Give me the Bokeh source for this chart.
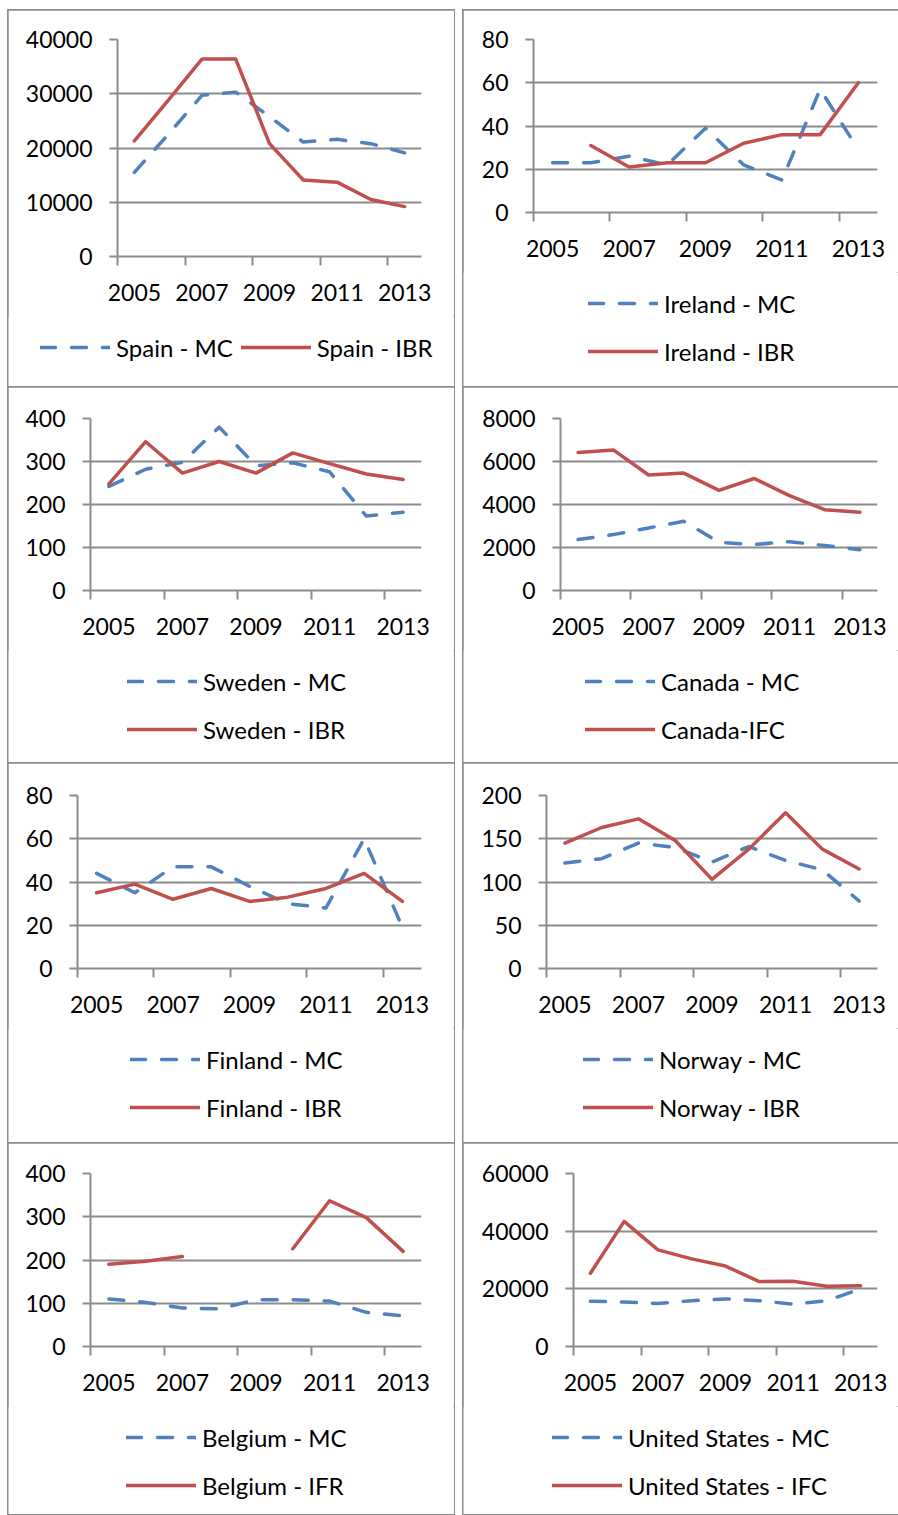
from bokeh.plotting import figure
from bokeh.models import Range1d, FixedTicker, Legend, LegendItem, Spacer
from bokeh.layouts import column, row
from bokeh.embed import file_html
from bokeh.resources import INLINE

nan = float("nan")

years = [2005, 2006, 2007, 2008, 2009, 2010, 2011, 2012, 2013]
label_years = [2005, 2007, 2009, 2011, 2013]

spain_mc = [15500, 22500, 29700, 30300, 25800, 21100, 21600, 20800, 19100]
spain_ibr = [21300, 28800, 36400, 36400, 20800, 14100, 13700, 10500, 9200]
ireland_mc = [23, 23, 26, 22, 39, 22, 15, 57, 29]
ireland_ibr = [nan, 31, 21, 23, 23, 32, 36, 36, 60]
sweden_mc = [242, 282, 298, 380, 290, 297, 276, 173, 182]
sweden_ibr = [248, 346, 273, 300, 273, 320, 295, 271, 258]
canada_mc = [2370, 2600, 2910, 3220, 2240, 2140, 2270, 2090, 1900]
canada_ifc = [6420, 6540, 5370, 5460, 4660, 5210, 4410, 3760, 3640]
finland_mc = [44, 35, 47, 47, 38, 30, 28, 60, 19]
finland_ibr = [35, 39, 32, 37, 31, 33, 37, 44, 31]
norway_mc = [122, 127, 145, 140, 123, 141, 125, 114, 78]
norway_ibr = [145, 163, 173, 148, 103, 138, 180, 138, 115]
belgium_mc = [110, 102, 89, 87, 108, 108, 105, 79, 71]
belgium_ifr = [190, 197, 208, nan, nan, 226, 337, 298, 220]
us_mc = [15700, 15400, 14900, 15900, 16500, 15900, 14700, 15900, 20000]
us_ifc = [25400, 43400, 33500, 30400, 27900, 22500, 22600, 20900, 21100]

spain_ticks = [0, 10000, 20000, 30000, 40000]
ireland_ticks = [0, 20, 40, 60, 80]
sweden_ticks = [0, 100, 200, 300, 400]
canada_ticks = [0, 2000, 4000, 6000, 8000]
finland_ticks = [0, 20, 40, 60, 80]
norway_ticks = [0, 50, 100, 150, 200]
belgium_ticks = [0, 100, 200, 300, 400]
us_ticks = [0, 20000, 40000, 60000]

BLUE = "#4F81BD"
RED = "#C0504D"
GRAY = "#8c8c8c"
FONT = "Lato"
AXIS_AREA = 60      # space below the frame kept for the x axis
LEG_TOP = 16        # legend top offset inside the legend strip

panels = [
    dict(mc=spain_mc, other=spain_ibr, labels=("Spain - MC", "Spain - IBR"), ticks=spain_ticks,
         w=446, h=377, L=109, R=33, T=29, F=217, lx=32, orient="horizontal"),
    dict(mc=ireland_mc, other=ireland_ibr, labels=("Ireland - MC", "Ireland - IBR"), ticks=ireland_ticks,
         w=435, h=377, L=70, R=21, T=29, F=173, lx=125, orient="vertical"),
    dict(mc=sweden_mc, other=sweden_ibr, labels=("Sweden - MC", "Sweden - IBR"), ticks=sweden_ticks,
         w=446, h=376, L=82, R=33, T=31, F=172, lx=119, orient="vertical"),
    dict(mc=canada_mc, other=canada_ifc, labels=("Canada - MC", "Canada-IFC"), ticks=canada_ticks,
         w=435, h=376, L=97, R=21, T=31, F=172, lx=122, orient="vertical"),
    dict(mc=finland_mc, other=finland_ibr, labels=("Finland - MC", "Finland - IBR"), ticks=finland_ticks,
         w=446, h=380, L=69, R=33, T=32, F=173, lx=122, orient="vertical"),
    dict(mc=norway_mc, other=norway_ibr, labels=("Norway - MC", "Norway - IBR"), ticks=norway_ticks,
         w=435, h=380, L=83, R=21, T=32, F=173, lx=120, orient="vertical"),
    dict(mc=belgium_mc, other=belgium_ifr, labels=("Belgium - MC", "Belgium - IFR"), ticks=belgium_ticks,
         w=446, h=371, L=82, R=33, T=30, F=173, lx=118, orient="vertical"),
    dict(mc=us_mc, other=us_ifc, labels=("United States - MC", "United States - IFC"), ticks=us_ticks,
         w=435, h=371, L=110, R=21, T=30, F=173, lx=89, orient="vertical"),
]


def style_legend(legend, orient):
    legend.label_text_font = FONT
    legend.label_text_font_size = "24px"
    legend.label_text_color = "black"
    legend.glyph_width = 70
    legend.glyph_height = 30
    legend.label_height = 30
    legend.label_standoff = 6
    legend.spacing = 18 if orient == "vertical" else 8
    legend.padding = 0
    legend.margin = 0
    legend.border_line_color = None
    legend.background_fill_alpha = 0


MC_STYLE = dict(line_color=BLUE, line_width=3.5, line_dash="15 16", line_cap="round", line_join="round")
OTHER_STYLE = dict(line_color=RED, line_width=3.5, line_cap="round", line_join="round")


def make_panel(cfg):
    chart_h = cfg["T"] + cfg["F"] + AXIS_AREA
    p = figure(width=cfg["w"], height=chart_h, output_backend="svg", toolbar_location=None,
               x_range=Range1d(years[0] - 0.5, years[-1] + 0.5),
               y_range=Range1d(cfg["ticks"][0], cfg["ticks"][-1]),
               min_border_left=cfg["L"], min_border_right=cfg["R"],
               min_border_top=cfg["T"], min_border_bottom=AXIS_AREA,
               frame_align=False)
    p.outline_line_color = None
    p.background_fill_color = "white"
    p.border_fill_color = "white"
    p.xgrid.visible = False
    p.ygrid.grid_line_color = GRAY
    p.ygrid.grid_line_width = 2

    xa = p.xaxis[0]
    xa.ticker = FixedTicker(ticks=label_years, minor_ticks=[y - 0.5 for y in label_years])
    xa.axis_line_color = GRAY
    xa.axis_line_width = 2
    xa.major_tick_out = 0
    xa.major_tick_in = 0
    xa.minor_tick_out = 9
    xa.minor_tick_in = 0
    xa.minor_tick_line_color = GRAY
    xa.minor_tick_line_width = 2
    xa.major_label_text_font = FONT
    xa.major_label_text_font_size = "23px"
    xa.major_label_text_color = "black"
    xa.major_label_standoff = 18

    ya = p.yaxis[0]
    ya.ticker = FixedTicker(ticks=cfg["ticks"], minor_ticks=[])
    ya.axis_line_color = GRAY
    ya.axis_line_width = 2
    ya.major_tick_out = 8
    ya.major_tick_in = 0
    ya.major_tick_line_color = GRAY
    ya.major_tick_line_width = 2
    ya.minor_tick_out = 0
    ya.minor_tick_in = 0
    ya.major_label_text_font = FONT
    ya.major_label_text_font_size = "23px"
    ya.major_label_text_color = "black"
    ya.major_label_standoff = 17

    p.line(years, cfg["mc"], **MC_STYLE)
    p.line(years, cfg["other"], **OTHER_STYLE)

    # legend strip under the chart (its own canvas so the legend is not clipped);
    # the series are repeated there outside the visible range only to feed the legend keys
    leg_h = cfg["h"] - chart_h
    lg = figure(width=cfg["w"], height=leg_h, output_backend="svg", toolbar_location=None,
                x_range=Range1d(0, 1), y_range=Range1d(0, 1),
                x_axis_type=None, y_axis_type=None,
                min_border_left=0, min_border_right=0, min_border_top=0, min_border_bottom=0,
                frame_align=False)
    lg.outline_line_color = None
    lg.xgrid.visible = False
    lg.ygrid.visible = False
    lg.background_fill_color = "white"
    lg.border_fill_color = "white"
    s1 = lg.line(years, cfg["mc"], **MC_STYLE)
    s2 = lg.line(years, cfg["other"], **OTHER_STYLE)
    box_h = 30 if cfg["orient"] == "horizontal" else 78
    legend = Legend(items=[LegendItem(label=cfg["labels"][0], renderers=[s1]),
                           LegendItem(label=cfg["labels"][1], renderers=[s2])],
                    location=(cfg["lx"], leg_h - LEG_TOP - box_h), orientation=cfg["orient"])
    style_legend(legend, cfg["orient"])
    lg.add_layout(legend, "center")

    return column(p, lg, spacing=0,
                  styles={"outline": "2px solid " + GRAY, "outline-offset": "-1px"})


cells = [make_panel(c) for c in panels]
grid = column(
    row(cells[0], cells[1], spacing=9),
    row(cells[2], cells[3], spacing=9),
    row(cells[4], cells[5], spacing=9),
    row(cells[6], cells[7], spacing=9),
    spacing=0,
)
layout = column(Spacer(height=10, width=10), row(Spacer(width=8, height=10), grid, spacing=0), spacing=0)

open("out.html", "w").write(file_html(layout, INLINE))
